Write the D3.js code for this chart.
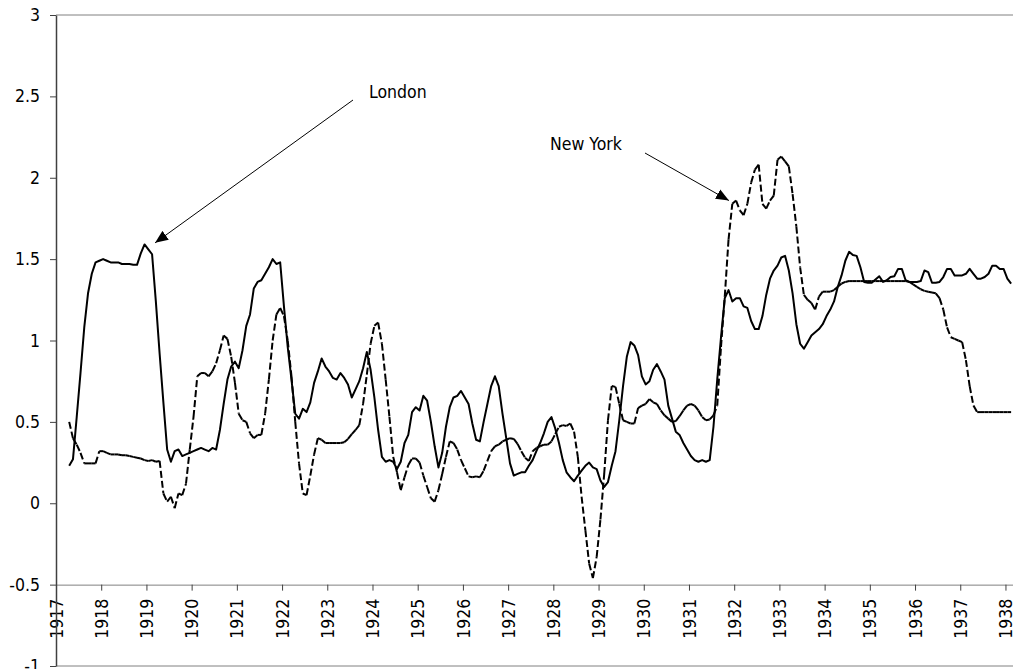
<!DOCTYPE html>
<html>
<head>
<meta charset="utf-8">
<script src="https://cdn.jsdelivr.net/npm/d3@7"></script>
<style>
  body { margin: 0; background: #fff; }
  svg { display: block; font-family: "DejaVu Sans Condensed", "DejaVu Sans", Verdana, sans-serif; }
</style>
</head>
<body>
<div id="chart"></div>
<script>
// Monthly series, first value is April 1917 (month index 3 counted from Jan 1917)
const firstMonth = 3;

const london = [
  0.23, 0.27, 0.53, 0.80, 1.08, 1.29, 1.41, 1.48, 1.49,                     // 1917 Apr-Dec
  1.50, 1.49, 1.48, 1.48, 1.48, 1.47, 1.47, 1.47, 1.465, 1.465, 1.535, 1.59, // 1918
  1.56, 1.53, 1.24, 0.92, 0.62, 0.33, 0.255, 0.32, 0.33, 0.29, 0.30, 0.31,   // 1919
  0.32, 0.33, 0.34, 0.33, 0.32, 0.34, 0.33, 0.45, 0.61, 0.76, 0.84, 0.87,    // 1920
  0.83, 0.94, 1.09, 1.16, 1.32, 1.36, 1.37, 1.41, 1.45, 1.50, 1.47, 1.48,    // 1921
  1.21, 0.96, 0.76, 0.55, 0.52, 0.58, 0.56, 0.62, 0.74, 0.81, 0.89, 0.84,    // 1922
  0.81, 0.77, 0.76, 0.80, 0.77, 0.73, 0.65, 0.70, 0.75, 0.83, 0.93, 0.82,    // 1923
  0.65, 0.45, 0.285, 0.255, 0.265, 0.255, 0.21, 0.255, 0.37, 0.42, 0.56, 0.59, // 1924
  0.57, 0.66, 0.63, 0.50, 0.35, 0.22, 0.31, 0.47, 0.59, 0.65, 0.66, 0.69,    // 1925
  0.65, 0.61, 0.49, 0.39, 0.38, 0.50, 0.61, 0.72, 0.78, 0.72, 0.55, 0.40,    // 1926
  0.245, 0.17, 0.18, 0.19, 0.19, 0.23, 0.265, 0.32, 0.37, 0.43, 0.50, 0.53,  // 1927
  0.46, 0.37, 0.265, 0.19, 0.16, 0.135, 0.17, 0.20, 0.23, 0.25, 0.22, 0.21,  // 1928
  0.14, 0.10, 0.13, 0.23, 0.32, 0.51, 0.72, 0.90, 0.99, 0.97, 0.91, 0.78,    // 1929
  0.73, 0.75, 0.82, 0.855, 0.81, 0.76, 0.60, 0.52, 0.44, 0.42, 0.37, 0.33,   // 1930
  0.29, 0.265, 0.255, 0.265, 0.255, 0.265, 0.47, 0.76, 1.02, 1.26, 1.31, 1.24, // 1931
  1.26, 1.26, 1.21, 1.20, 1.12, 1.07, 1.07, 1.15, 1.28, 1.38, 1.43, 1.46,    // 1932
  1.51, 1.52, 1.43, 1.29, 1.10, 0.98, 0.95, 0.99, 1.03, 1.05, 1.07, 1.10,    // 1933
  1.15, 1.19, 1.24, 1.33, 1.40, 1.49, 1.545, 1.525, 1.52, 1.45, 1.36, 1.355, // 1934
  1.355, 1.375, 1.395, 1.36, 1.37, 1.39, 1.395, 1.44, 1.44, 1.37, 1.36, 1.36, // 1935
  1.36, 1.365, 1.43, 1.42, 1.355, 1.355, 1.36, 1.39, 1.44, 1.44, 1.40, 1.40, // 1936
  1.40, 1.41, 1.44, 1.41, 1.38, 1.38, 1.39, 1.41, 1.46, 1.46, 1.44, 1.44,    // 1937
  1.38, 1.35                                                                 // 1938
];

const newYork = [
  0.50, 0.40, 0.36, 0.31, 0.245, 0.245, 0.245, 0.245, 0.32,                  // 1917 Apr-Dec
  0.32, 0.31, 0.30, 0.30, 0.30, 0.295, 0.295, 0.29, 0.285, 0.28, 0.275, 0.265, // 1918
  0.26, 0.265, 0.255, 0.26, 0.06, 0.01, 0.04, -0.03, 0.06, 0.05, 0.12, 0.33, // 1919
  0.53, 0.78, 0.80, 0.80, 0.78, 0.81, 0.86, 0.94, 1.03, 1.01, 0.90, 0.74,    // 1920
  0.55, 0.51, 0.50, 0.43, 0.40, 0.42, 0.42, 0.55, 0.76, 1.00, 1.16, 1.20,    // 1921
  1.15, 1.00, 0.78, 0.50, 0.245, 0.06, 0.05, 0.17, 0.30, 0.40, 0.39, 0.37,   // 1922
  0.37, 0.37, 0.37, 0.37, 0.375, 0.395, 0.425, 0.45, 0.48, 0.61, 0.79, 0.98, // 1923
  1.09, 1.11, 0.98, 0.76, 0.53, 0.285, 0.19, 0.08, 0.16, 0.235, 0.275, 0.275, // 1924
  0.25, 0.17, 0.10, 0.03, 0.01, 0.08, 0.18, 0.285, 0.38, 0.37, 0.33, 0.265,  // 1925
  0.215, 0.165, 0.16, 0.165, 0.16, 0.20, 0.26, 0.32, 0.35, 0.36, 0.38, 0.39, // 1926
  0.40, 0.395, 0.365, 0.32, 0.28, 0.26, 0.32, 0.34, 0.35, 0.36, 0.36, 0.38,  // 1927
  0.425, 0.47, 0.48, 0.475, 0.49, 0.44, 0.285, 0.04, -0.165, -0.37, -0.46, -0.33, // 1928
  -0.10, 0.18, 0.51, 0.72, 0.715, 0.61, 0.51, 0.50, 0.49, 0.49, 0.585, 0.60, // 1929
  0.61, 0.64, 0.62, 0.61, 0.57, 0.54, 0.52, 0.50, 0.505, 0.535, 0.57, 0.60,  // 1930
  0.61, 0.60, 0.57, 0.53, 0.51, 0.515, 0.54, 0.60, 0.96, 1.27, 1.62, 1.84,   // 1931
  1.86, 1.80, 1.77, 1.84, 1.97, 2.05, 2.08, 1.84, 1.81, 1.86, 1.89, 2.11,    // 1932
  2.13, 2.10, 2.07, 1.90, 1.70, 1.45, 1.28, 1.25, 1.23, 1.19, 1.27, 1.30,    // 1933
  1.30, 1.30, 1.31, 1.33, 1.35, 1.36, 1.365, 1.365, 1.365, 1.365, 1.365, 1.365, // 1934
  1.365, 1.365, 1.365, 1.365, 1.365, 1.365, 1.365, 1.365, 1.365, 1.365, 1.36, 1.345, // 1935
  1.33, 1.315, 1.305, 1.30, 1.295, 1.29, 1.26, 1.19, 1.08, 1.02, 1.01, 1.00, // 1936
  0.99, 0.88, 0.72, 0.60, 0.56, 0.56, 0.56, 0.56, 0.56, 0.56, 0.56, 0.56,    // 1937
  0.56, 0.56                                                                 // 1938
];

const yearLabels = ["1917", "1918", "1919", "1920", "1921", "1922", "1923", "1924",
  "1925", "1926", "1927", "1928", "1929", "1930", "1931", "1932", "1933", "1934",
  "1935", "1936", "1937", "1938"];
const yTicks = [-1, -0.5, 0, 0.5, 1, 1.5, 2, 2.5, 3];

// annotation arrows: text and arrow tip (month index, value)
const notes = [
  { label: "London", month: 26.3, value: 1.60 },
  { label: "New York", month: 178.6, value: 1.86 }
];

const width = 1013, height = 669;
const totalMonths = 254;
const fontSize = "17.5px";

const svg = d3.select("#chart")
  .append("svg")
  .attr("width", width)
  .attr("height", height);

const x = d3.scaleLinear().domain([0, totalMonths]).range([56, 1013]);
const y = d3.scaleLinear().domain([-1, 3]).range([666, 15]);

// plot frame lines (top and bottom)
svg.append("line")
  .attr("x1", x(0)).attr("x2", x(totalMonths))
  .attr("y1", y(3)).attr("y2", y(3))
  .attr("stroke", "#808080");
svg.append("line")
  .attr("x1", x(0)).attr("x2", x(totalMonths))
  .attr("y1", y(-1)).attr("y2", y(-1))
  .attr("stroke", "#808080");

// x axis crosses at -0.5
const xAxis = svg.append("g")
  .attr("transform", `translate(0,${y(-0.5)})`)
  .call(d3.axisBottom(x)
    .tickValues(yearLabels.map((d, i) => i * 12))
    .tickFormat((d, i) => yearLabels[i])
    .tickSize(6)
    .tickSizeOuter(0));
xAxis.select(".domain").attr("stroke", "#808080");
xAxis.selectAll(".tick line").attr("stroke", "#404040");
xAxis.selectAll("text")
  .attr("transform", "rotate(-90)")
  .attr("text-anchor", "end")
  .attr("x", -14)
  .attr("y", 0)
  .attr("dy", "0.35em")
  .attr("fill", "#000")
  .attr("font-family", null)
  .style("font-size", fontSize);
xAxis.attr("font-family", null).attr("font-size", null);

// y axis
const yAxis = svg.append("g")
  .attr("transform", `translate(${x(0)},0)`)
  .call(d3.axisLeft(y)
    .tickValues(yTicks)
    .tickFormat(d => String(d))
    .tickSize(6)
    .tickSizeOuter(0)
    .tickPadding(10));
yAxis.attr("font-family", null).attr("font-size", null);
yAxis.select(".domain").attr("stroke", "#404040").attr("stroke-width", 1.5);
yAxis.selectAll(".tick line").attr("stroke", "#404040");
yAxis.selectAll("text")
  .attr("fill", "#000")
  .style("font-size", fontSize);

// London: solid line
const line = d3.line()
  .x((d, k) => x(firstMonth + k + 0.5))
  .y(d => y(d));

svg.append("path")
  .datum(london)
  .attr("d", line)
  .attr("fill", "none")
  .attr("stroke", "#000")
  .attr("stroke-width", 2)
  .attr("stroke-linejoin", "round");

// New York: dashed, the dash pattern restarts at every monthly segment
const nySegments = d3.pairs(newYork.map((v, k) => [firstMonth + k + 0.5, v]));
svg.selectAll(".ny-seg")
  .data(nySegments)
  .enter()
  .append("line")
  .attr("class", "ny-seg")
  .attr("x1", d => x(d[0][0]))
  .attr("y1", d => y(d[0][1]))
  .attr("x2", d => x(d[1][0]))
  .attr("y2", d => y(d[1][1]))
  .attr("stroke", "#000")
  .attr("stroke-width", 2)
  .attr("stroke-dasharray", "7,3");

// arrow marker
svg.append("defs").append("marker")
  .attr("id", "arrow")
  .attr("viewBox", "0 0 12 10")
  .attr("refX", 12)
  .attr("refY", 5)
  .attr("markerWidth", 13)
  .attr("markerHeight", 11)
  .attr("markerUnits", "userSpaceOnUse")
  .attr("orient", "auto")
  .append("path")
  .attr("d", "M0,0 L12,5 L0,10 Z")
  .attr("fill", "#000");

// annotation placement (pixel position of text and arrow tail)
const notePos = [
  { tx: 369, ty: 98, ax: 353, ay: 100 },
  { tx: 550, ty: 150, ax: 645, ay: 153 }
];

notes.forEach((n, i) => {
  const p = notePos[i];
  svg.append("text")
    .attr("x", p.tx)
    .attr("y", p.ty)
    .attr("fill", "#000")
    .style("font-size", fontSize)
    .text(n.label);
  svg.append("line")
    .attr("x1", p.ax)
    .attr("y1", p.ay)
    .attr("x2", x(n.month))
    .attr("y2", y(n.value))
    .attr("stroke", "#000")
    .attr("stroke-width", 1)
    .attr("marker-end", "url(#arrow)");
});
</script>
</body>
</html>
